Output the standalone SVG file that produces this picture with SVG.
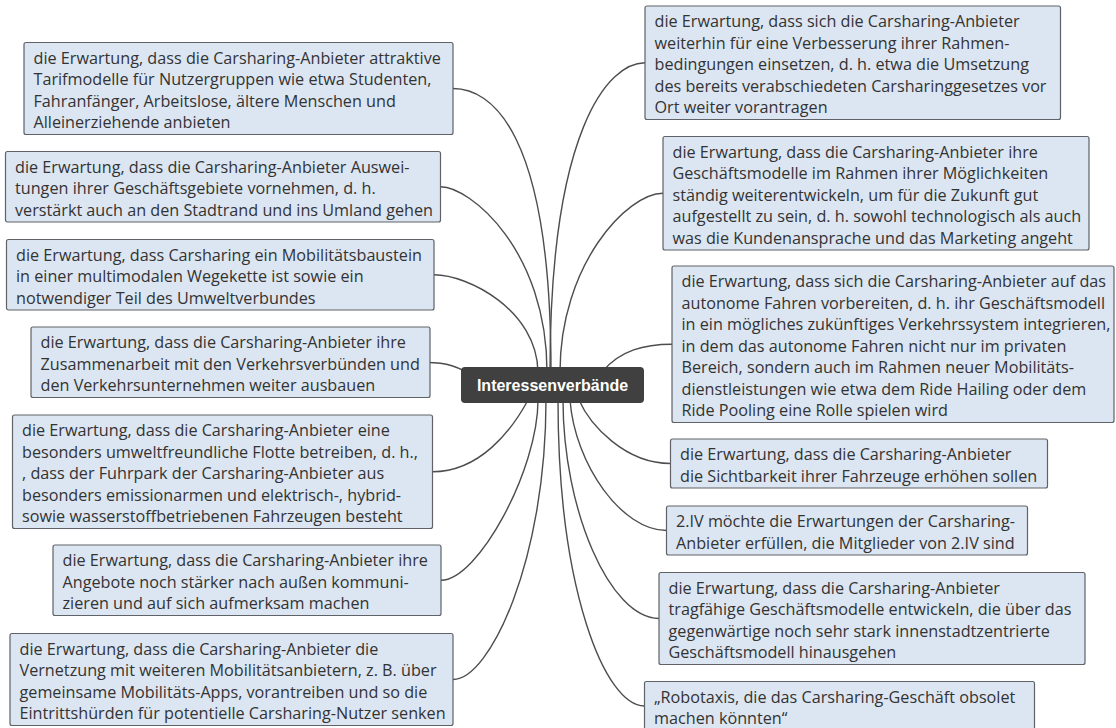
<svg xmlns="http://www.w3.org/2000/svg" width="1116" height="728" viewBox="0 0 1116 728">
  <style>
    .box { fill: #dce6f2; stroke: #5f6266; stroke-width: 1.2; }
    .txt { font-family: "Open Sans", "Noto Sans", "Liberation Sans", sans-serif; font-size: 16.2px; fill: #333333; }
    .hub { fill: #404040; }
    .hubtxt { font-family: "Liberation Sans", Arial, sans-serif; font-size: 16px; font-weight: bold; fill: #ffffff; }
    .link { fill: none; stroke: #4d4d4d; stroke-width: 1.4; }
  </style>
  <rect width="1116" height="728" fill="#ffffff"/>

  <!-- connectors from the central topic to each expectation -->
  <g id="connectors">
    <path class="link" d="M453,88.5 C490,88.5 551,128 551,372"/>
    <path class="link" d="M440.5,186.75 C470,186.75 547,250 547,372"/>
    <path class="link" d="M434,274.75 C468,274.75 537,310 538,372"/>
    <path class="link" d="M427,362.5 C446,362.5 458,366 476,378"/>
    <path class="link" d="M432.5,471.75 C480,471.75 512,430 528,400"/>
    <path class="link" d="M441,580.25 C478,580.25 538,470 538,400"/>
    <path class="link" d="M453,679.5 C490,679.5 546,560 546,400"/>
    <path class="link" d="M645,62.75 C608,62.75 550,130 550,372"/>
    <path class="link" d="M663,193.25 C627,193.25 560,265 560,372"/>
    <path class="link" d="M672,344.25 C645,344.25 620,350 602,372"/>
    <path class="link" d="M670.5,463.5 C625,463.5 590,425 579,400"/>
    <path class="link" d="M666.5,530.5 C622,530.5 575,465 570,400"/>
    <path class="link" d="M659,618.5 C610,618.5 563,510 563,400"/>
    <path class="link" d="M644.5,706 C605,706 558,590 558,400"/>
  </g>

  <!-- central topic -->
  <g id="center">
    <rect class="hub" x="461" y="367" width="183" height="36" rx="4"/>
    <text class="hubtxt" x="552.5" y="390.8" text-anchor="middle">Interessenverbände</text>
  </g>

  <!-- left side -->
  <g id="l1">
    <rect class="box" x="24" y="42.5" width="429" height="92" rx="2"/>
    <text class="txt" x="33.5" y="63.5">
      <tspan x="33.5" dy="0">die Erwartung, dass die Carsharing-Anbieter attraktive</tspan>
      <tspan x="33.5" dy="21.5">Tarifmodelle für Nutzergruppen wie etwa Studenten,</tspan>
      <tspan x="33.5" dy="21.5">Fahranfänger, Arbeitslose, ältere Menschen und</tspan>
      <tspan x="33.5" dy="21.5">Alleinerziehende anbieten</tspan>
    </text>
  </g>
  <g id="l2">
    <rect class="box" x="5.5" y="151.5" width="435" height="70.5" rx="2"/>
    <text class="txt" x="15" y="172.5">
      <tspan x="15" dy="0">die Erwartung, dass die Carsharing-Anbieter Auswei-</tspan>
      <tspan x="15" dy="21.5">tungen ihrer Geschäftsgebiete vornehmen, d. h.</tspan>
      <tspan x="15" dy="21.5">verstärkt auch an den Stadtrand und ins Umland gehen</tspan>
    </text>
  </g>
  <g id="l3">
    <rect class="box" x="6.5" y="239.5" width="427.5" height="70.5" rx="2"/>
    <text class="txt" x="16" y="260.5">
      <tspan x="16" dy="0">die Erwartung, dass Carsharing ein Mobilitätsbaustein</tspan>
      <tspan x="16" dy="21.5">in einer multimodalen Wegekette ist sowie ein</tspan>
      <tspan x="16" dy="21.5">notwendiger Teil des Umweltverbundes</tspan>
    </text>
  </g>
  <g id="l4">
    <rect class="box" x="31" y="327" width="399" height="70.5" rx="2"/>
    <text class="txt" x="40.5" y="348">
      <tspan x="40.5" dy="0">die Erwartung, dass die Carsharing-Anbieter ihre</tspan>
      <tspan x="40.5" dy="21.5">Zusammenarbeit mit den Verkehrsverbünden und</tspan>
      <tspan x="40.5" dy="21.5">den Verkehrsunternehmen weiter ausbauen</tspan>
    </text>
  </g>
  <g id="l5">
    <rect class="box" x="12.5" y="415" width="420" height="113.5" rx="2"/>
    <text class="txt" x="22" y="436">
      <tspan x="22" dy="0">die Erwartung, dass die Carsharing-Anbieter eine</tspan>
      <tspan x="22" dy="21.5">besonders umweltfreundliche Flotte betreiben, d. h.,</tspan>
      <tspan x="22" dy="21.5">, dass der Fuhrpark der Carsharing-Anbieter aus</tspan>
      <tspan x="22" dy="21.5">besonders emissionarmen und elektrisch-, hybrid-</tspan>
      <tspan x="22" dy="21.5">sowie wasserstoffbetriebenen Fahrzeugen besteht</tspan>
    </text>
  </g>
  <g id="l6">
    <rect class="box" x="53" y="545" width="388" height="70.5" rx="2"/>
    <text class="txt" x="62.5" y="566">
      <tspan x="62.5" dy="0">die Erwartung, dass die Carsharing-Anbieter ihre</tspan>
      <tspan x="62.5" dy="21.5">Angebote noch stärker nach außen kommuni-</tspan>
      <tspan x="62.5" dy="21.5">zieren und auf sich aufmerksam machen</tspan>
    </text>
  </g>
  <g id="l7">
    <rect class="box" x="10" y="633.5" width="443" height="92" rx="2"/>
    <text class="txt" x="19.5" y="654.5">
      <tspan x="19.5" dy="0">die Erwartung, dass die Carsharing-Anbieter die</tspan>
      <tspan x="19.5" dy="21.5">Vernetzung mit weiteren Mobilitätsanbietern, z. B. über</tspan>
      <tspan x="19.5" dy="21.5">gemeinsame Mobilitäts-Apps, vorantreiben und so die</tspan>
      <tspan x="19.5" dy="21.5">Eintrittshürden für potentielle Carsharing-Nutzer senken</tspan>
    </text>
  </g>

  <!-- right side -->
  <g id="r1">
    <rect class="box" x="645" y="6" width="415.5" height="113.5" rx="2"/>
    <text class="txt" x="654.5" y="27">
      <tspan x="654.5" dy="0">die Erwartung, dass sich die Carsharing-Anbieter</tspan>
      <tspan x="654.5" dy="21.5">weiterhin für eine Verbesserung ihrer Rahmen-</tspan>
      <tspan x="654.5" dy="21.5">bedingungen einsetzen, d. h. etwa die Umsetzung</tspan>
      <tspan x="654.5" dy="21.5">des bereits verabschiedeten Carsharinggesetzes vor</tspan>
      <tspan x="654.5" dy="21.5">Ort weiter vorantragen</tspan>
    </text>
  </g>
  <g id="r2">
    <rect class="box" x="663" y="136.5" width="426" height="113.5" rx="2"/>
    <text class="txt" x="672.5" y="157.5">
      <tspan x="672.5" dy="0">die Erwartung, dass die Carsharing-Anbieter ihre</tspan>
      <tspan x="672.5" dy="21.5">Geschäftsmodelle im Rahmen ihrer Möglichkeiten</tspan>
      <tspan x="672.5" dy="21.5">ständig weiterentwickeln, um für die Zukunft gut</tspan>
      <tspan x="672.5" dy="21.5">aufgestellt zu sein, d. h. sowohl technologisch als auch</tspan>
      <tspan x="672.5" dy="21.5">was die Kundenansprache und das Marketing angeht</tspan>
    </text>
  </g>
  <g id="r3">
    <rect class="box" x="672" y="266" width="442" height="156.5" rx="2"/>
    <text class="txt" x="681.5" y="287">
      <tspan x="681.5" dy="0">die Erwartung, dass sich die Carsharing-Anbieter auf das</tspan>
      <tspan x="681.5" dy="21.5">autonome Fahren vorbereiten, d. h. ihr Geschäftsmodell</tspan>
      <tspan x="681.5" dy="21.5">in ein mögliches zukünftiges Verkehrssystem integrieren,</tspan>
      <tspan x="681.5" dy="21.5">in dem das autonome Fahren nicht nur im privaten</tspan>
      <tspan x="681.5" dy="21.5">Bereich, sondern auch im Rahmen neuer Mobilitäts-</tspan>
      <tspan x="681.5" dy="21.5">dienstleistungen wie etwa dem Ride Hailing oder dem</tspan>
      <tspan x="681.5" dy="21.5">Ride Pooling eine Rolle spielen wird</tspan>
    </text>
  </g>
  <g id="r4">
    <rect class="box" x="670.5" y="439" width="377" height="49" rx="2"/>
    <text class="txt" x="680" y="460">
      <tspan x="680" dy="0">die Erwartung, dass die Carsharing-Anbieter</tspan>
      <tspan x="680" dy="21.5">die Sichtbarkeit ihrer Fahrzeuge erhöhen sollen</tspan>
    </text>
  </g>
  <g id="r5">
    <rect class="box" x="666.5" y="506" width="361" height="49" rx="2"/>
    <text class="txt" x="676" y="527">
      <tspan x="676" dy="0">2.IV möchte die Erwartungen der Carsharing-</tspan>
      <tspan x="676" dy="21.5">Anbieter erfüllen, die Mitglieder von 2.IV sind</tspan>
    </text>
  </g>
  <g id="r6">
    <rect class="box" x="659" y="572.5" width="426" height="92" rx="2"/>
    <text class="txt" x="668.5" y="593.5">
      <tspan x="668.5" dy="0">die Erwartung, dass die Carsharing-Anbieter</tspan>
      <tspan x="668.5" dy="21.5">tragfähige Geschäftsmodelle entwickeln, die über das</tspan>
      <tspan x="668.5" dy="21.5">gegenwärtige noch sehr stark innenstadtzentrierte</tspan>
      <tspan x="668.5" dy="21.5">Geschäftsmodell hinausgehen</tspan>
    </text>
  </g>
  <g id="r7">
    <rect class="box" x="644.5" y="681.5" width="390" height="49" rx="2"/>
    <text class="txt" x="654" y="702.5">
      <tspan x="654" dy="0">„Robotaxis, die das Carsharing-Geschäft obsolet</tspan>
      <tspan x="654" dy="21.5">machen könnten“</tspan>
    </text>
  </g>
</svg>
